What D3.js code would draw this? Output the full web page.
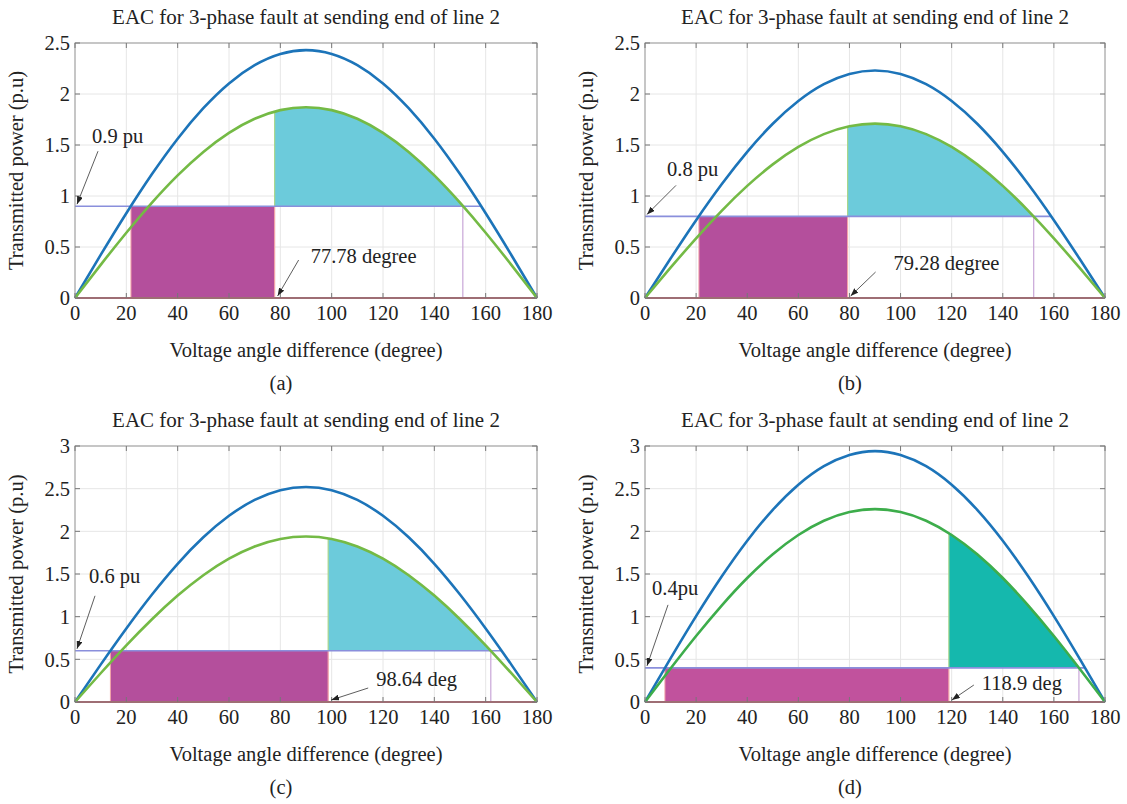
<!DOCTYPE html>
<html>
<head>
<meta charset="utf-8">
<script src="https://cdn.jsdelivr.net/npm/d3@7"></script>
<style>
body{margin:0;background:#fff;}
text{font-family:"Liberation Serif","Times New Roman",serif;fill:#222;}
</style>
</head>
<body>
<svg id="fig" width="1127" height="804"></svg>
<script>
// angle samples (degree)
var angles = [0,10,20,30,40,50,60,70,80,90,100,110,120,130,140,150,160,170,180];
// pre-fault curve (blue), one row per panel
var preFault = [
  [0,0.422,0.831,1.215,1.562,1.861,2.104,2.283,2.393,2.43,2.393,2.283,2.104,1.861,1.562,1.215,0.831,0.422,0],
  [0,0.387,0.763,1.115,1.433,1.708,1.931,2.096,2.196,2.23,2.196,2.096,1.931,1.708,1.433,1.115,0.763,0.387,0],
  [0,0.438,0.862,1.26,1.62,1.93,2.182,2.368,2.482,2.52,2.482,2.368,2.182,1.93,1.62,1.26,0.862,0.438,0],
  [0,0.511,1.006,1.47,1.89,2.252,2.546,2.763,2.895,2.94,2.895,2.763,2.546,2.252,1.89,1.47,1.006,0.511,0]
];
// post-fault curve (green)
var postFault = [
  [0,0.325,0.64,0.935,1.202,1.432,1.619,1.757,1.842,1.87,1.842,1.757,1.619,1.432,1.202,0.935,0.64,0.325,0],
  [0,0.297,0.585,0.855,1.099,1.31,1.481,1.607,1.684,1.71,1.684,1.607,1.481,1.31,1.099,0.855,0.585,0.297,0],
  [0,0.337,0.664,0.97,1.247,1.486,1.68,1.823,1.911,1.94,1.911,1.823,1.68,1.486,1.247,0.97,0.664,0.337,0],
  [0,0.392,0.773,1.13,1.453,1.731,1.957,2.124,2.226,2.26,2.226,2.124,1.957,1.731,1.453,1.13,0.773,0.392,0]
];
var pmValues = [0.9,0.8,0.6,0.4];          // mechanical power (pu)
var startAngle = [21.8,21.1,13.8,7.8];     // initial angle
var clearAngle = [77.78,79.28,98.64,118.9];// clearing angle
var maxAngle = [151.1,152.1,162,169.8];    // max swing angle
var pmLineEnd = [158.2,158.9,166.2,172.2];
var yMax = [2.5,2.5,3,3];
var yTicks = [[0,0.5,1,1.5,2,2.5],[0,0.5,1,1.5,2,2.5],[0,0.5,1,1.5,2,2.5,3],[0,0.5,1,1.5,2,2.5,3]];
var xTicks = [0,20,40,60,80,100,120,140,160,180];
var pmLabels = ["0.9 pu","0.8 pu","0.6 pu","0.4pu"];
var angleLabels = ["77.78 degree","79.28 degree","98.64 deg","118.9 deg"];
var panelNames = ["(a)","(b)","(c)","(d)"];

// layout
var boxes = [
  {l:75,r:537,t:43,b:298},
  {l:645,r:1105,t:43,b:298},
  {l:75,r:537,t:446,b:702},
  {l:645,r:1105,t:446,b:702}
];
var pmTail = [[23,-55],[31,-31],[20,-55],[23,-63]];
var pmText = [[17,-63],[22,-40],[14,-68],[7,-73]];
var angTail = [[24,-38],[28,-26],[40,-14],[25,-17]];
var angText = [[36,-35],[46,-28],[48,-16],[33,-12]];
var purpleCol = ["#b44f9c","#b44f9c","#b44f9c","#c1529d"];
var cyanCol = ["#6ccbdb","#6ccbdb","#6ccbdb","#15b8ad"];
var greenCol = ["#74ba45","#74ba45","#74ba45","#3dad4b"];
var blueCol = "#1c74b9";
var fs = 20.5;

var svg = d3.select("#fig");
var defs = svg.append("defs");
defs.append("marker").attr("id","arr").attr("viewBox","0 0 8 6")
  .attr("refX",8).attr("refY",3).attr("markerWidth",8).attr("markerHeight",6)
  .attr("markerUnits","userSpaceOnUse").attr("orient","auto")
  .append("path").attr("d","M0,0L8,3L0,6Z").attr("fill","#222");

boxes.forEach(function(bx,i){
  var x = d3.scaleLinear().domain([0,180]).range([bx.l,bx.r]);
  var y = d3.scaleLinear().domain([0,yMax[i]]).range([bx.b,bx.t]);
  var g = svg.append("g");
  var pts = function(arr){ return angles.map(function(a,k){ return [a,arr[k]]; }); };
  var line = d3.line().x(function(d){return x(d[0]);}).y(function(d){return y(d[1]);}).curve(d3.curveNatural);

  // grid
  g.selectAll(".gx").data(xTicks).enter().append("line")
    .attr("x1",x).attr("x2",x).attr("y1",bx.t).attr("y2",bx.b)
    .attr("stroke","#e6e6e6").attr("stroke-width",1);
  g.selectAll(".gy").data(yTicks[i]).enter().append("line")
    .attr("x1",bx.l).attr("x2",bx.r).attr("y1",y).attr("y2",y)
    .attr("stroke","#e6e6e6").attr("stroke-width",1);

  // accelerating area
  g.append("rect").attr("x",x(startAngle[i])).attr("y",y(pmValues[i]))
    .attr("width",x(clearAngle[i])-x(startAngle[i])).attr("height",y(0)-y(pmValues[i]))
    .attr("fill",purpleCol[i]);
  g.append("line").attr("x1",x(startAngle[i])).attr("x2",x(startAngle[i]))
    .attr("y1",y(0)).attr("y2",y(pmValues[i])).attr("stroke","#f2a3a8").attr("stroke-width",1);

  // decelerating area
  var cid = "clipC"+i, gid = "clipG"+i;
  defs.append("clipPath").attr("id",cid).append("rect")
    .attr("x",x(clearAngle[i])).attr("y",bx.t).attr("width",x(maxAngle[i])-x(clearAngle[i])+1).attr("height",y(pmValues[i])-bx.t);
  defs.append("clipPath").attr("id",gid).append("path")
    .attr("d",d3.area().x(function(d){return x(d[0]);}).y0(y(0)).y1(function(d){return y(d[1]);}).curve(d3.curveNatural)(pts(postFault[i])));
  g.append("path").attr("clip-path","url(#"+cid+")")
    .attr("d",d3.area().x(function(d){return x(d[0]);}).y0(y(pmValues[i])).y1(function(d){return y(d[1]);}).curve(d3.curveNatural)(pts(postFault[i])))
    .attr("fill",cyanCol[i]);

  // clearing angle line
  g.append("line").attr("x1",x(clearAngle[i])).attr("x2",x(clearAngle[i]))
    .attr("y1",y(0)).attr("y2",y(pmValues[i])).attr("stroke","#f2a3a8").attr("stroke-width",1.2);
  g.append("line").attr("clip-path","url(#"+gid+")")
    .attr("x1",x(clearAngle[i])).attr("x2",x(clearAngle[i]))
    .attr("y1",y(pmValues[i])).attr("y2",bx.t).attr("stroke","#a9d68c").attr("stroke-width",1.2);
  // max angle line
  g.append("line").attr("x1",x(maxAngle[i])).attr("x2",x(maxAngle[i]))
    .attr("y1",y(0)).attr("y2",y(pmValues[i])).attr("stroke","#c8a6d8").attr("stroke-width",1.2);

  // Pm line
  g.append("line").attr("x1",x(0)).attr("x2",x(pmLineEnd[i]))
    .attr("y1",y(pmValues[i])).attr("y2",y(pmValues[i])).attr("stroke","#8a8fdc").attr("stroke-width",1.6);
  // during-fault curve (zero)
  g.append("line").attr("x1",x(0)).attr("x2",x(180)).attr("y1",y(0)).attr("y2",y(0))
    .attr("stroke","#a2434f").attr("stroke-width",1.8);

  // curves
  g.append("path").attr("d",line(pts(preFault[i]))).attr("fill","none")
    .attr("stroke",blueCol).attr("stroke-width",2.6);
  g.append("path").attr("d",line(pts(postFault[i]))).attr("fill","none")
    .attr("stroke",greenCol[i]).attr("stroke-width",2.6);

  // box and ticks
  g.append("rect").attr("x",bx.l).attr("y",bx.t).attr("width",bx.r-bx.l).attr("height",bx.b-bx.t)
    .attr("fill","none").attr("stroke","#9a9a9a").attr("stroke-width",1);
  g.selectAll(".tb").data(xTicks).enter().append("path")
    .attr("d",function(d){ return "M"+x(d)+","+bx.b+"v-5M"+x(d)+","+bx.t+"v5"; })
    .attr("stroke","#777").attr("stroke-width",1);
  g.selectAll(".tl").data(yTicks[i]).enter().append("path")
    .attr("d",function(d){ return "M"+bx.l+","+y(d)+"h5M"+bx.r+","+y(d)+"h-5"; })
    .attr("stroke","#777").attr("stroke-width",1);

  // tick labels
  g.selectAll(".xl").data(xTicks).enter().append("text")
    .attr("x",x).attr("y",bx.b+22).attr("text-anchor","middle").attr("font-size",fs).text(function(d){return d;});
  g.selectAll(".yl").data(yTicks[i]).enter().append("text")
    .attr("x",bx.l-5).attr("y",y).attr("dy","0.35em").attr("text-anchor","end").attr("font-size",fs)
    .text(function(d){return d3.format("~g")(d);});

  // titles
  var cx = (bx.l+bx.r)/2, cy = (bx.t+bx.b)/2;
  g.append("text").attr("x",cx).attr("y",bx.t-19).attr("text-anchor","middle").attr("font-size",21)
    .text("EAC for 3-phase fault at sending end of line 2");
  g.append("text").attr("x",cx).attr("y",bx.b+59).attr("text-anchor","middle").attr("font-size",fs)
    .text("Voltage angle difference (degree)");
  g.append("text").attr("transform","translate("+(bx.l-52)+","+cy+") rotate(-90)")
    .attr("text-anchor","middle").attr("font-size",fs).text("Transmitted power (p.u)");
  g.append("text").attr("x",cx-25).attr("y",bx.b+92).attr("text-anchor","middle").attr("font-size",fs)
    .text(panelNames[i]);

  // annotations
  var tip1 = [x(0), y(pmValues[i])];
  g.append("line").attr("x1",tip1[0]+pmTail[i][0]).attr("y1",tip1[1]+pmTail[i][1])
    .attr("x2",tip1[0]+2).attr("y2",tip1[1]-2).attr("stroke","#333").attr("stroke-width",0.8).attr("marker-end","url(#arr)");
  g.append("text").attr("x",tip1[0]+pmText[i][0]).attr("y",tip1[1]+pmText[i][1]).attr("font-size",fs).text(pmLabels[i]);
  var tip2 = [x(clearAngle[i]), y(0)];
  g.append("line").attr("x1",tip2[0]+angTail[i][0]).attr("y1",tip2[1]+angTail[i][1])
    .attr("x2",tip2[0]+3).attr("y2",tip2[1]-2).attr("stroke","#333").attr("stroke-width",0.8).attr("marker-end","url(#arr)");
  g.append("text").attr("x",tip2[0]+angText[i][0]).attr("y",tip2[1]+angText[i][1]).attr("font-size",fs).text(angleLabels[i]);
});
</script>
</body>
</html>
